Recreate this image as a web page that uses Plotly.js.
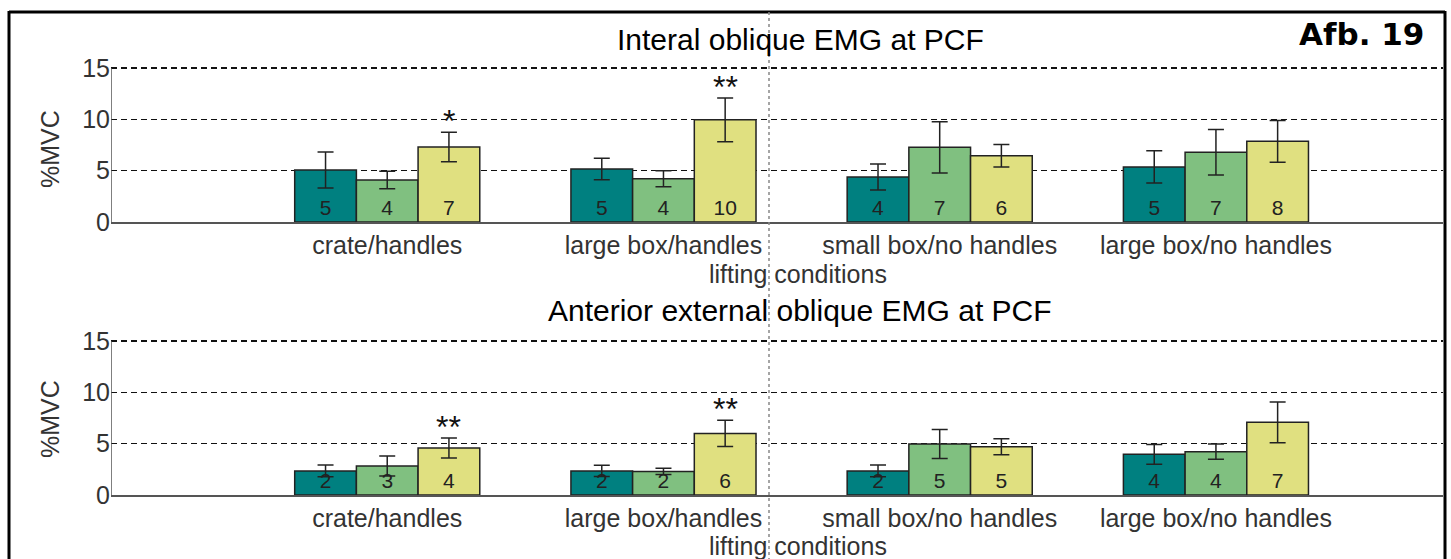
<!DOCTYPE html>
<html>
<head>
<meta charset="utf-8">
<script src="https://cdn.plot.ly/plotly-3.0.1.min.js"></script>
<style>html,body{margin:0;padding:0;background:#fff;}#chart{width:1451px;height:559px;}</style>
</head>
<body>
<div id="chart"></div>
<script>
// ---- data ----
const conditions = ['crate/handles', 'large box/handles', 'small box/no handles', 'large box/no handles'];

// Internal oblique EMG at PCF (%MVC)
const ioSeries1 = [5.06, 5.16, 4.38, 5.36];
const ioSeries1Err = [1.75, 1.05, 1.27, 1.57];
const ioSeries2 = [4.09, 4.22, 7.27, 6.79];
const ioSeries2Err = [0.85, 0.78, 2.50, 2.22];
const ioSeries3 = [7.30, 9.95, 6.46, 7.86];
const ioSeries3Err = [1.43, 2.14, 1.10, 2.03];
const ioLabels1 = ['5', '5', '4', '5'];
const ioLabels2 = ['4', '4', '7', '7'];
const ioLabels3 = ['7', '10', '6', '8'];
const ioSig3 = ['*', '**', '', ''];

// Anterior external oblique EMG at PCF (%MVC)
const eoSeries1 = [2.34, 2.34, 2.34, 3.96];
const eoSeries1Err = [0.57, 0.55, 0.57, 0.97];
const eoSeries2 = [2.82, 2.30, 4.97, 4.22];
const eoSeries2Err = [0.97, 0.30, 1.41, 0.75];
const eoSeries3 = [4.58, 6.00, 4.70, 7.08];
const eoSeries3Err = [0.97, 1.28, 0.78, 1.98];
const eoLabels1 = ['2', '2', '2', '4'];
const eoLabels2 = ['3', '2', '5', '4'];
const eoLabels3 = ['4', '6', '5', '7'];
const eoSig3 = ['**', '**', '', ''];

const yTicks = [0, 5, 10, 15];
const topTitle = 'Interal oblique EMG at PCF';
const bottomTitle = 'Anterior external oblique EMG at PCF';
const xTitle = 'lifting conditions';
const yTitle = '%MVC';
const figLabel = 'Afb. 19';

// ---- styling ----
const W = 1451, H = 559;
const px = v => v / W;
const py = v => 1 - v / H;
const colors = ['#008080', '#80c080', '#e0e080'];
const FONT = 'Liberation Sans, Arial, sans-serif';
const BARGAP = 0.33;
const barW = (1 - BARGAP) / 3;
const YMAX = 15.3;          // a little headroom so the 15 grid line is drawn
const PXU = 154 / 15;       // pixels per %MVC unit in the reference

function barTrace(y, err, labels, color, xa, ya) {
  return {
    type: 'bar', x: conditions, y: y, xaxis: xa, yaxis: ya,
    marker: {color: color, line: {color: '#222', width: 1.5}},
    error_y: {type: 'data', array: err, visible: true, color: '#222', thickness: 1.5, width: 8},
    text: labels, textposition: 'inside', insidetextanchor: 'start', textangle: 0,
    constraintext: 'none',
    textfont: {family: FONT, size: 21, color: '#222'},
    hoverinfo: 'skip', showlegend: false, cliponaxis: false
  };
}

const data = [
  barTrace(ioSeries1, ioSeries1Err, ioLabels1, colors[0], 'x', 'y'),
  barTrace(ioSeries2, ioSeries2Err, ioLabels2, colors[1], 'x', 'y'),
  barTrace(ioSeries3, ioSeries3Err, ioLabels3, colors[2], 'x', 'y'),
  barTrace(eoSeries1, eoSeries1Err, eoLabels1, colors[0], 'x2', 'y2'),
  barTrace(eoSeries2, eoSeries2Err, eoLabels2, colors[1], 'x2', 'y2'),
  barTrace(eoSeries3, eoSeries3Err, eoLabels3, colors[2], 'x2', 'y2')
];

const xDomain = [px(111), px(1443)];
function xAxis(anchor) {
  return {
    domain: xDomain, anchor: anchor, type: 'category', range: [-1, 3.822],
    showgrid: false, zeroline: false, showline: true, linecolor: '#555', linewidth: 2,
    ticks: '', tickfont: {family: FONT, size: 25, color: '#333'}, fixedrange: true
  };
}
function yAxis(anchor, y0px) {
  const topPx = y0px - YMAX * PXU;
  return {
    domain: [py(y0px), py(topPx)], anchor: anchor, range: [0, YMAX], tickvals: yTicks, ticktext: yTicks.map(String),
    showgrid: true, gridcolor: '#111', griddash: '6px,4px', gridwidth: 1.6,
    zeroline: false, showline: false, ticks: '',
    tickfont: {family: FONT, size: 25, color: '#333'}, fixedrange: true
  };
}

const annotations = [];
function addSig(sig, y, err, xa, ya) {
  sig.forEach((s, i) => {
    if (!s) return;
    annotations.push({
      xref: xa, yref: ya, x: i + barW, y: y[i] + err[i], text: s, showarrow: false,
      yanchor: 'bottom', yshift: -9, font: {family: FONT, size: 32, color: '#111'}
    });
  });
}
addSig(ioSig3, ioSeries3, ioSeries3Err, 'x', 'y');
addSig(eoSig3, eoSeries3, eoSeries3Err, 'x2', 'y2');

function addText(text, x, y, size, opts) {
  annotations.push(Object.assign({
    xref: 'paper', yref: 'paper', x: px(x), y: py(y), text: text, showarrow: false,
    xanchor: 'center', yanchor: 'middle', font: {family: FONT, size: size, color: '#000'}
  }, opts || {}));
}
addText(topTitle, 800, 39, 30);
addText(bottomTitle, 800, 310, 30);
addText(xTitle, 798, 274, 25, {font: {family: FONT, size: 25, color: '#333'}});
addText(xTitle, 798, 546, 25, {font: {family: FONT, size: 25, color: '#333'}});
addText(yTitle, 50, 149, 25, {textangle: -90, font: {family: FONT, size: 25, color: '#333'}});
addText(yTitle, 50, 419, 25, {textangle: -90, font: {family: FONT, size: 25, color: '#333'}});
addText('<b>' + figLabel + '</b>', 1426, 34, 31, {xanchor: 'right', font: {family: 'DejaVu Sans, Verdana, sans-serif', size: 31, color: '#000'}});

const shapes = [
  // figure frame
  {type: 'line', xref: 'paper', yref: 'paper', x0: px(9), x1: px(1445), y0: py(12), y1: py(12), line: {color: '#000', width: 3}},
  {type: 'line', xref: 'paper', yref: 'paper', x0: px(9), x1: px(9), y0: py(11), y1: py(560), line: {color: '#000', width: 3}},
  {type: 'line', xref: 'paper', yref: 'paper', x0: px(1445), x1: px(1445), y0: py(11), y1: py(560), line: {color: '#000', width: 3}},
  // y axis lines from 0 to 15 (MATLAB box ends at 15)
  {type: 'line', xref: 'x', yref: 'y', x0: -1, x1: -1, y0: 0, y1: 15, line: {color: '#555', width: 1.5}},
  {type: 'line', xref: 'x2', yref: 'y2', x0: -1, x1: -1, y0: 0, y1: 15, line: {color: '#555', width: 1.5}},
  // dotted separator
  {type: 'line', xref: 'paper', yref: 'paper', x0: px(769), x1: px(769), y0: py(12), y1: py(560), line: {color: '#888', width: 1.5, dash: 'dot'}}
];

const layout = {
  width: W, height: H, margin: {l: 0, r: 0, t: 0, b: 0},
  paper_bgcolor: '#fff', plot_bgcolor: 'rgba(0,0,0,0)',
  barmode: 'group', bargap: BARGAP, bargroupgap: 0,
  showlegend: false,
  xaxis: xAxis('y'), yaxis: yAxis('x', 222),
  xaxis2: xAxis('y2'), yaxis2: yAxis('x2', 495),
  annotations: annotations, shapes: shapes,
  font: {family: FONT}
};

Plotly.newPlot('chart', data, layout, {staticPlot: true, displayModeBar: false});
</script>
</body>
</html>
